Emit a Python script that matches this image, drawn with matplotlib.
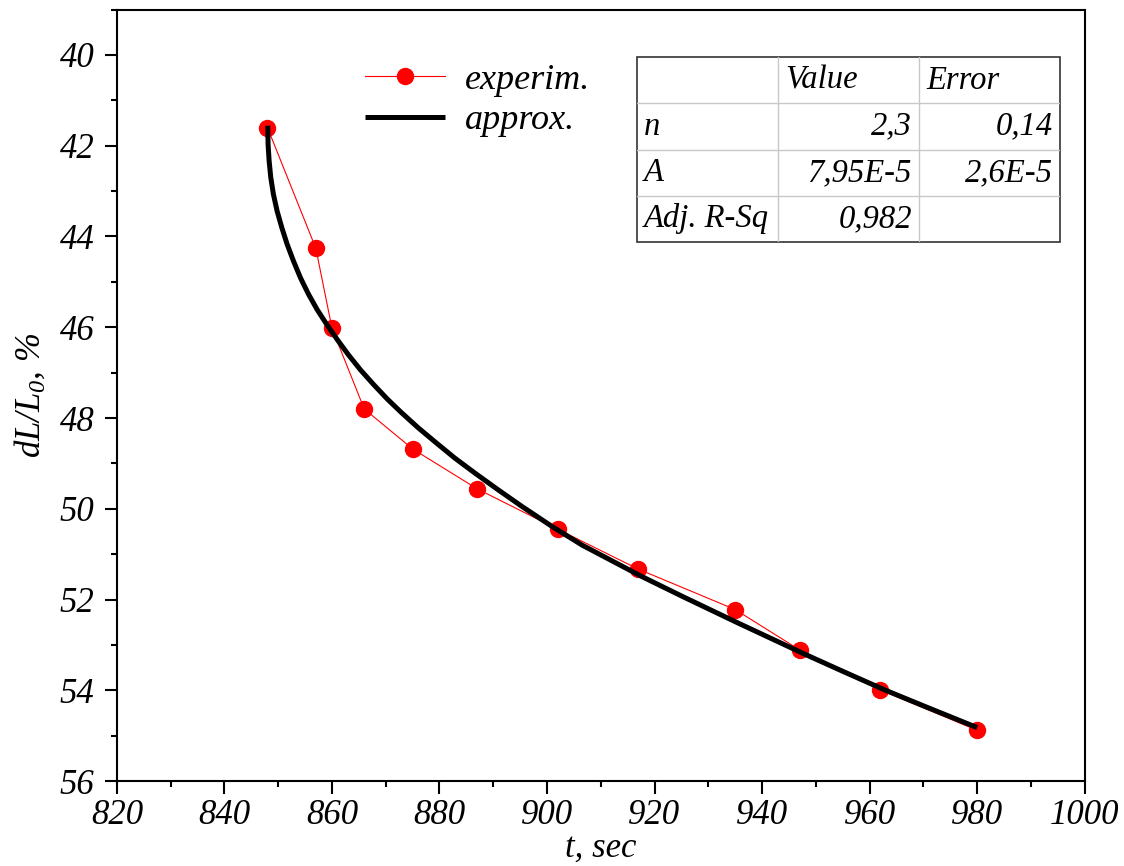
import matplotlib
matplotlib.use("Agg")
import matplotlib.pyplot as plt
from matplotlib.ticker import MultipleLocator

t_exp = [848, 857, 860, 866, 875, 887, 902, 917, 935, 947, 962, 980]
dl_exp = [41.6, 44.26, 46.02, 47.8, 48.68, 49.56, 50.45, 51.33, 52.22, 53.11, 53.99, 54.88]

# fitted curve
t_fit = [848.06, 848.12, 848.31, 848.62, 849.11, 849.80, 850.66, 851.66, 852.84,
         854.14, 855.63, 857.24, 859.04, 860.97, 863.08, 865.31, 867.73, 870.28,
         873.01, 875.99, 879.22, 882.82, 886.67, 890.89, 895.36, 900.82, 906.53,
         917.6, 925.0, 935.6, 947.7, 955.0, 962.8, 970.0, 980.0]
dl_fit = [41.56, 41.97, 42.33, 42.70, 43.07, 43.44, 43.80, 44.17, 44.54,
          44.91, 45.27, 45.61, 45.94, 46.27, 46.61, 46.94, 47.26, 47.58,
          47.89, 48.21, 48.53, 48.88, 49.22, 49.58, 49.95, 50.38, 50.80,
          51.49, 51.92, 52.52, 53.19, 53.58, 53.99, 54.34, 54.82]

# fit table
col_heads = ["", "Value", "Error"]
row_names = ["n", "A", "Adj. R-Sq"]
row_values = ["2,3", "7,95E-5", "0,982"]
row_errors = ["0,14", "2,6E-5", ""]

SERIF = "Liberation Serif"
plt.rcParams.update({
    "font.family": SERIF,
    "font.style": "italic",
    "mathtext.fontset": "custom",
    "mathtext.it": "Liberation Serif:italic",
    "mathtext.rm": "Liberation Serif:italic",
    "axes.linewidth": 1.5,
})

fig = plt.figure(figsize=(11.24, 8.66), dpi=100)
ax = fig.add_axes([0.104, 0.098, 0.861, 0.891])

ax.plot(t_exp, dl_exp, color="red", lw=0.8, marker="o", ms=11.5,
        mec="red", mfc="red", label="experim.", zorder=3)
ax.plot(t_fit, dl_fit, color="black", lw=3.6, label="approx.", zorder=4,
        solid_capstyle="butt", solid_joinstyle="round")

ax.set_xlim(820, 1000)
ax.set_ylim(56, 39)
ax.xaxis.set_major_locator(MultipleLocator(20))
ax.xaxis.set_minor_locator(MultipleLocator(10))
ax.yaxis.set_major_locator(MultipleLocator(2))
ax.yaxis.set_minor_locator(MultipleLocator(1))
ax.tick_params(which="major", direction="out", length=9, width=1.5,
               labelsize=25, pad=7, top=False, right=False)
ax.tick_params(axis="x", which="major", pad=4)
ax.tick_params(which="minor", direction="out", length=4.5, width=1.5,
               top=False, right=False)
for lab in ax.get_xticklabels() + ax.get_yticklabels():
    lab.set_fontstyle("italic")

ax.set_xlabel("t, sec", fontsize=25, labelpad=0)
ax.set_ylabel(r"$dL/L_0$, %", fontsize=25, labelpad=9)

leg = ax.legend(loc="upper left", bbox_to_anchor=(0.2565, 0.93), frameon=False,
                fontsize=26, handlelength=2.2, handletextpad=0.55,
                labelspacing=0.2, borderaxespad=0, borderpad=0)

# fit results table
tab = fig.add_axes([0.5667, 0.7206, 0.3763, 0.2134])
tab.set_xlim(0, 3)
tab.set_ylim(4, 0)
tab.axis("off")
for i in range(1, 4):
    tab.axhline(i, color="#c8c8c8", lw=1.0)
for j in (1, 2):
    tab.axvline(j, color="#c8c8c8", lw=1.0)
tab.add_patch(plt.Rectangle((0, 0), 3, 4, fill=False, ec="#333333", lw=1.2,
                            clip_on=False))
fs = 23.5
for j, h in enumerate(col_heads):
    tab.text(j + 0.05, 0.5, h, ha="left", va="center", fontsize=fs)
for i in range(3):
    tab.text(0.05, i + 1.5, row_names[i], ha="left", va="center", fontsize=fs)
    tab.text(1.95, i + 1.5, row_values[i], ha="right", va="center", fontsize=fs)
    tab.text(2.95, i + 1.5, row_errors[i], ha="right", va="center", fontsize=fs)

fig.savefig("out.png", dpi=100)
